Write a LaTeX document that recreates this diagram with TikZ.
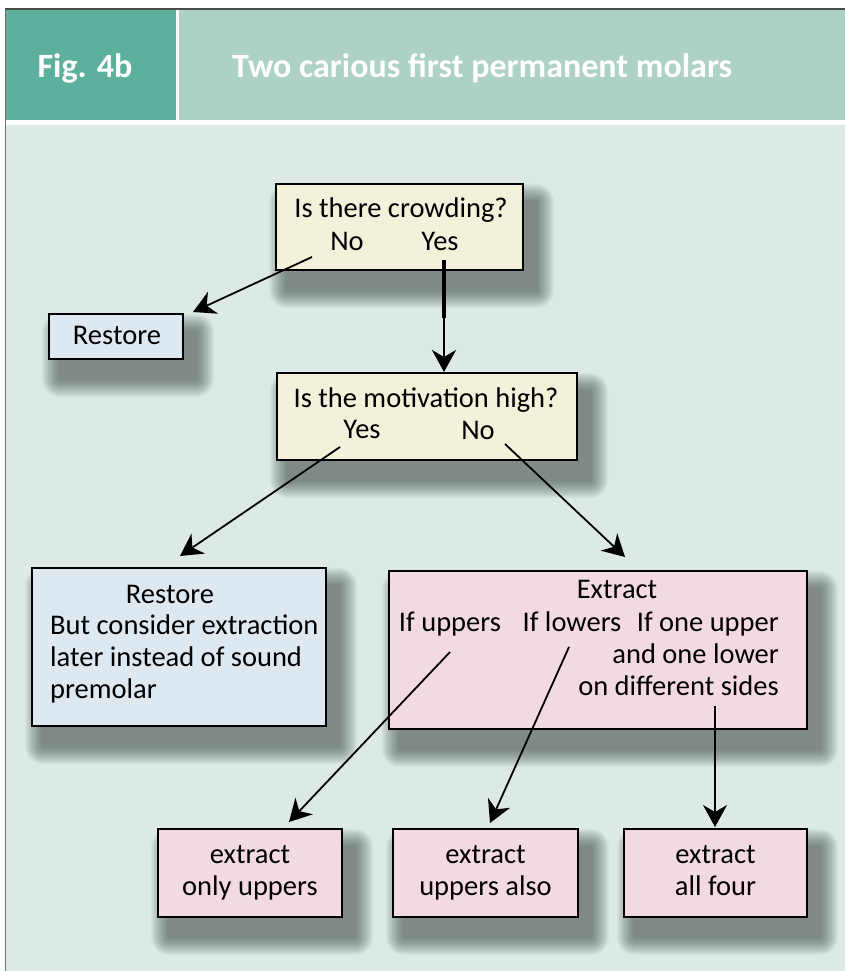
\documentclass[tikz,border=0pt]{standalone}
\usepackage{fontspec}
\setmainfont{Carlito}
\usetikzlibrary{arrows.meta,calc}
\definecolor{hdark}{HTML}{5DB09C}
\definecolor{hlight}{HTML}{ADD2C5}
\definecolor{bgc}{HTML}{DCE9E4}
\definecolor{cream}{HTML}{F3F1DA}
\definecolor{lblue}{HTML}{DDE8F0}
\definecolor{lpink}{HTML}{F3DAE1}
\definecolor{framec}{HTML}{4A4A4A}
\definecolor{shadc}{HTML}{3E4846}
\pgfdeclarelayer{bglayer}
\pgfdeclarelayer{shadowlayer}
\pgfsetlayers{bglayer,shadowlayer,main}
\newcommand\softshadow[1]{%
  \begin{pgfonlayer}{shadowlayer}
  \foreach \e in {18,17,...,1}{
    \fill[shadc, fill opacity=0.042, rounded corners=\e pt]
      ($(#1.north west)+(12-\e,19-\e)$) rectangle ($(#1.south east)+(12+\e,19+\e)$);
  }
  \end{pgfonlayer}}
\begin{document}
\begin{tikzpicture}[x=1pt,y=-1pt,
  box/.style={draw=black, line width=2.2pt, rectangle, inner sep=0pt},
  txt/.style={font=\fontsize{28.5}{34}\selectfont, anchor=base, inner sep=0pt},
  hdr/.style={font=\bfseries\fontsize{34}{40}\selectfont, text=white, inner sep=0pt},
  arr/.style={line width=1.8pt, -{Stealth[length=22pt,width=24pt,inset=7pt]}},
]
\useasboundingbox (0,0) rectangle (845,971);
% frame and header
\begin{pgfonlayer}{bglayer}
\fill[white] (0,0) rectangle (845,971);
\fill[bgc] (5,125) rectangle (845,971);
\fill[hdark] (5,10) rectangle (176,120);
\fill[hlight] (179,10) rectangle (845,120);
\draw[framec, line width=1.5pt] (5,9) -- (845,9);
\draw[framec!80, line width=1pt] (5,9) -- (5,971);
\end{pgfonlayer}
\node[hdr, anchor=base] (fig) at (85,78) {Fig. 4b};
\node[hdr, anchor=base west] (title) at (232,78) {Two carious first permanent molars};

% boxes
\node[box, fill=cream, minimum width=247pt, minimum height=86pt] (q1) at (399.5,227) {};
\node[txt] (q1t) at (401,217) {Is there crowding?};
\node[txt] (q1no) at (347,250) {No};
\node[txt] (q1yes) at (440,250) {Yes};

\node[box, fill=lblue, minimum width=134pt, minimum height=45pt] (r1) at (116,336.5) {};
\node[txt] (r1t) at (117,344) {Restore};

\node[box, fill=cream, minimum width=300pt, minimum height=87pt] (q2) at (427,416.5) {};
\node[txt] (q2t) at (426,407) {Is the motivation high?};
\node[txt] (q2yes) at (362,438) {Yes};
\node[txt] (q2no) at (478,439) {No};

\node[box, fill=lblue, minimum width=294pt, minimum height=158pt] (r2) at (179,647) {};
\node[txt] (r2t) at (170,603) {Restore};
\node[txt, anchor=base west] (r2a) at (50,634) {But consider extraction};
\node[txt, anchor=base west] (r2b) at (50,666) {later instead of sound};
\node[txt, anchor=base west] (r2c) at (50,698) {premolar};

\node[box, fill=lpink, minimum width=418pt, minimum height=158pt] (ex) at (598,650) {};
\node[txt] (ext) at (617,598) {Extract};
\node[txt] (exup) at (450,631) {If uppers};
\node[txt] (exlo) at (572,631) {If lowers};
\node[txt, anchor=base east] (exo1) at (779,631) {If one upper};
\node[txt, anchor=base east] (exo2) at (779,663) {and one lower};
\node[txt, anchor=base east] (exo3) at (779,695) {on different sides};

\node[box, fill=lpink, minimum width=184pt, minimum height=88pt] (ba) at (250,873) {};
\node[txt] (ba1) at (250,863) {extract};
\node[txt] (ba2) at (250,895) {only uppers};
\node[box, fill=lpink, minimum width=185pt, minimum height=88pt] (bb) at (485.5,873) {};
\node[txt] (bb1) at (485.5,863) {extract};
\node[txt] (bb2) at (485.5,895) {uppers also};
\node[box, fill=lpink, minimum width=183pt, minimum height=88pt] (bc) at (715.5,873) {};
\node[txt] (bc1) at (715.5,863) {extract};
\node[txt] (bc2) at (715.5,895) {all four};

\softshadow{q1}\softshadow{r1}\softshadow{q2}\softshadow{r2}\softshadow{ex}
\softshadow{ba}\softshadow{bb}\softshadow{bc}

% connector end points
\coordinate (s1) at (312,257);
\coordinate (e1) at (193,312);
\coordinate (s2) at (444,260);
\coordinate (m2) at (444,318);
\coordinate (e2) at (444,372);
\coordinate (s3) at (340,447);
\coordinate (e3) at (180,556);
\coordinate (s4) at (505,444);
\coordinate (e4) at (625,557);
\coordinate (s5) at (450,652);
\coordinate (e5) at (289,822);
\coordinate (s6) at (569,647);
\coordinate (e6) at (490,823);
\coordinate (s7) at (715,706);
\coordinate (e7) at (715,827);

\draw[arr] (s1) -- (e1);
\draw[line width=3.5pt] (s2) -- (m2);
\draw[arr] (m2) -- (e2);
\draw[arr] (s3) -- (e3);
\draw[arr] (s4) -- (e4);
\draw[arr] (s5) -- (e5);
\draw[arr] (s6) -- (e6);
\draw[arr] (s7) -- (e7);
\end{tikzpicture}
\end{document}
